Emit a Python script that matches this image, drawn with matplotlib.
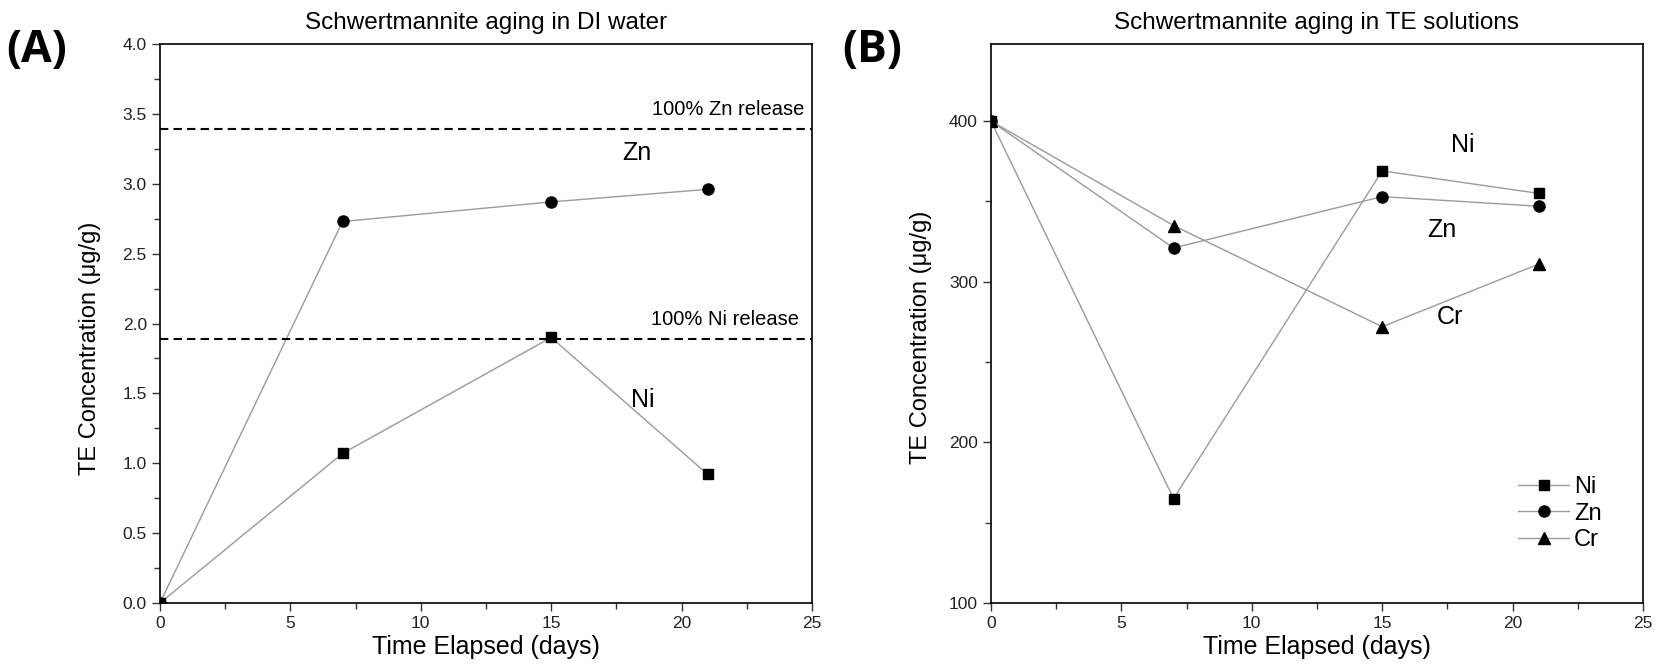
import numpy as np
import matplotlib.pyplot as plt
from matplotlib.ticker import MultipleLocator

plt.rcParams['font.family'] = ['Liberation Sans', 'DejaVu Sans']

# data
days = [0, 7, 15, 21]

di_zn = [0, 2.73, 2.87, 2.96]
di_ni = [0, 1.07, 1.90, 0.92]
zn_full = 3.39
ni_full = 1.89

te_ni = [400, 165, 369, 355]
te_zn = [400, 321, 353, 347]
te_cr = [400, 335, 272, 311]

line_col = '#9a9a9a'
tick_col = '#333333'

fig = plt.figure(figsize=(16.64, 6.65), dpi=100)
ax1 = fig.add_axes([160/1664, 1 - 603/665, 652/1664, 559/665])
ax2 = fig.add_axes([991/1664, 1 - 603/665, 652/1664, 559/665])

def style(ax, label_y):
    ax.tick_params(which='both', direction='out', top=False, right=False,
                   labelsize=12.5, colors=tick_col, labelcolor='#222222')
    ax.tick_params(which='major', length=6, width=1)
    ax.tick_params(which='minor', length=4, width=1)
    for s in ax.spines.values():
        s.set_linewidth(1.2)
    ax.xaxis.set_major_locator(MultipleLocator(5))
    ax.xaxis.set_minor_locator(MultipleLocator(2.5))
    ax.set_xlim(0, 25)
    ax.set_xlabel('Time Elapsed (days)', fontsize=18, labelpad=3)
    ax.set_ylabel('TE Concentration (\u03bcg/g)', fontsize=17)
    ax.yaxis.set_label_coords(-0.09, label_y)

# panel A
ax1.plot(days, di_zn, color=line_col, lw=1, marker='o', ms=8, mfc='black', mec='black')
ax1.plot(days, di_ni, color=line_col, lw=1, marker='s', ms=7, mfc='black', mec='black')
ax1.axhline(zn_full, color='black', ls='--', lw=1.5, dashes=(4, 2.5))
ax1.axhline(ni_full, color='black', ls='--', lw=1.5, dashes=(4, 2.5))
ax1.text(24.7, zn_full + 0.07, '100% Zn release', ha='right', va='bottom', fontsize=14.5)
ax1.text(24.5, ni_full + 0.07, '100% Ni release', ha='right', va='bottom', fontsize=14.5)
ax1.text(18.3, 3.22, 'Zn', fontsize=18, ha='center', va='center')
ax1.text(18.5, 1.45, 'Ni', fontsize=18, ha='center', va='center')
ax1.set_ylim(0, 4.0)
ax1.yaxis.set_major_locator(MultipleLocator(0.5))
ax1.yaxis.set_minor_locator(MultipleLocator(0.25))
ax1.yaxis.set_major_formatter(plt.FormatStrFormatter('%.1f'))
style(ax1, 0.455)
ax1.set_title('Schwertmannite aging in DI water', fontsize=17.5, pad=11)
fig.text(6/1664, 1 - 62/665, '(A)', fontsize=32, fontweight='bold', family='Open Sans')

# panel B
ax2.plot(days, te_ni, color=line_col, lw=1, marker='s', ms=7, mfc='black', mec='black', label='Ni')
ax2.plot(days, te_zn, color=line_col, lw=1, marker='o', ms=8, mfc='black', mec='black', label='Zn')
ax2.plot(days, te_cr, color=line_col, lw=1, marker='^', ms=8, mfc='black', mec='black', label='Cr')
ax2.text(18.1, 385, 'Ni', fontsize=18, ha='center', va='center')
ax2.text(17.3, 332, 'Zn', fontsize=18, ha='center', va='center')
ax2.text(17.6, 278, 'Cr', fontsize=18, ha='center', va='center')
ax2.set_ylim(100, 448)
ax2.yaxis.set_major_locator(MultipleLocator(100))
ax2.yaxis.set_minor_locator(MultipleLocator(50))
style(ax2, 0.475)
ax2.legend(loc='center left', bbox_to_anchor=(0.775, 0.16), frameon=False, fontsize=17,
           handlelength=2.2, labelspacing=0.2, handletextpad=0.2)
ax2.set_title('Schwertmannite aging in TE solutions', fontsize=17.5, pad=11)
fig.text(842/1664, 1 - 62/665, '(B)', fontsize=32, fontweight='bold', family='Open Sans')

fig.savefig('out.png', dpi=100)
